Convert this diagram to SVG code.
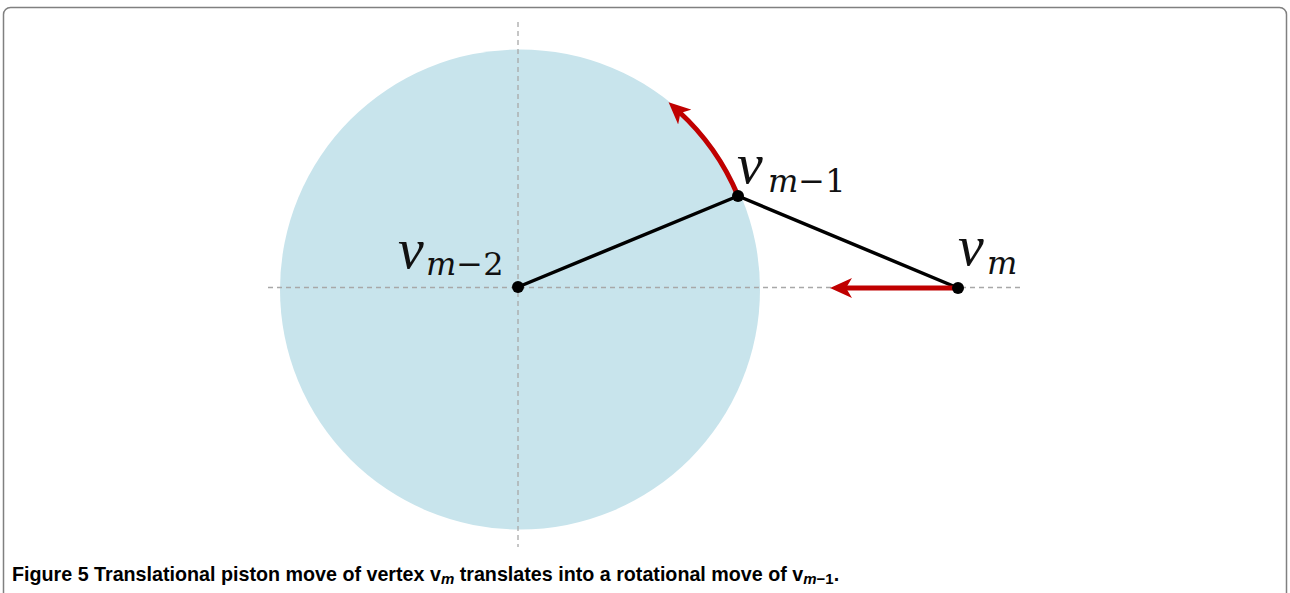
<svg xmlns="http://www.w3.org/2000/svg" width="1290" height="593" viewBox="0 0 1290 593">
<style>
.dash{stroke:#a8a8a8;stroke-width:1.3;stroke-dasharray:5 4;fill:none}
.edge{stroke:#000;stroke-width:3.5;fill:none;stroke-linecap:round}
.move{stroke:#c00000;stroke-width:5;fill:none}
.dot{fill:#000}
.lbl{font-family:"DejaVu Serif",serif;font-style:italic;fill:#111}
.v{font-family:"Liberation Serif",serif;font-style:italic;font-size:58px}
.sub{font-size:32px}
.cap{font-family:"Liberation Sans",Arial,sans-serif;font-size:19.7px;fill:#000;font-weight:bold}
</style>
<defs>
<marker id="ah" markerUnits="userSpaceOnUse" viewBox="0 0 22 20" markerWidth="22" markerHeight="20" refX="9" refY="10" orient="auto">
<path d="M0,0 L22,10 L0,20 L6,10 Z" fill="#c00000"/>
</marker>
</defs>
<rect x="3.5" y="7.5" width="1283" height="640" rx="7" fill="#fff" stroke="#808080" stroke-width="1.5"/>
<circle id="disk" cx="520" cy="289.5" r="240" fill="#c8e4ec"/>
<g id="axes">
<line class="dash" x1="518" y1="22" x2="518" y2="547"/>
<line class="dash" x1="268" y1="287.5" x2="1022" y2="287.5"/>
</g>
<g id="connectors">
<line class="edge" x1="518" y1="287" x2="738" y2="196"/>
<line class="edge" x1="738" y1="196" x2="958" y2="288"/>
<path class="move" d="M738,196 A238,238 0 0 0 678.2,111" marker-end="url(#ah)"/>
<line class="move" x1="958" y1="288" x2="843" y2="288" marker-end="url(#ah)"/>
</g>
<g id="v_m2">
<circle class="dot" cx="518" cy="287" r="6"/>
<text class="lbl" x="398" y="268"><tspan class="v">v</tspan><tspan class="sub" x="426" y="275">m</tspan><tspan class="sub" font-style="normal">−2</tspan></text>
</g>
<g id="v_m1">
<circle class="dot" cx="738" cy="196" r="6"/>
<text class="lbl" x="737" y="183"><tspan class="v">v</tspan><tspan class="sub" x="768" y="192">m</tspan><tspan class="sub" font-style="normal">−1</tspan></text>
</g>
<g id="v_m">
<circle class="dot" cx="958" cy="288" r="6"/>
<text class="lbl" x="958" y="265"><tspan class="v">v</tspan><tspan class="sub" x="987" y="274">m</tspan></text>
</g>
<text class="cap" x="12" y="581">Figure 5 Translational piston move of vertex v<tspan font-style="italic" font-size="15" dy="3">m</tspan><tspan dy="-3"> translates into a rotational move of </tspan>v<tspan font-style="italic" font-size="15" dy="3">m</tspan><tspan font-size="15">−1</tspan><tspan dy="-3">.</tspan></text>
</svg>
